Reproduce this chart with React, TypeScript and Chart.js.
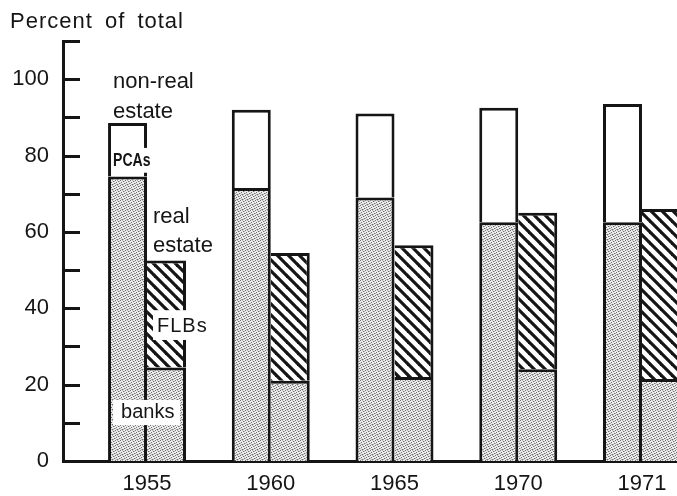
import { useEffect, useRef } from 'react';
import { Chart, registerables } from 'chart.js';

Chart.register(...registerables);

// ---- data (percent of total) ----
const years = ['1955', '1960', '1965', '1970', '1971'];
// non-real estate loans
const nonRealBanks = [74.5, 71.5, 69, 62.5, 62.5];
const pcas = [14, 20.5, 22, 30, 31];
// real estate loans
const realBanks = [24.5, 21, 22, 24, 21.5];
const flbs = [28, 33.5, 34.5, 41, 44.5];
// axis
const yLabelValues = [0, 20, 40, 60, 80, 100];
const yMax = 110;

const INK = '#151515';
const FONT = '"Liberation Sans", Arial, Helvetica, sans-serif';

function makeStipple(): CanvasPattern | string {
  const n = 5;
  const c = document.createElement('canvas');
  c.width = n;
  c.height = n;
  const g = c.getContext('2d');
  if (!g) return '#d0d0d0';
  g.fillStyle = '#ececec';
  g.fillRect(0, 0, n, n);
  g.fillStyle = '#6e6e6e';
  for (const [x, y] of [[0, 0], [3, 1], [1, 2], [4, 3], [2, 4]]) g.fillRect(x, y, 1, 1);
  g.fillStyle = '#b4b4b4';
  for (const [x, y] of [[2, 0], [4, 1], [0, 3], [3, 4], [1, 4]]) g.fillRect(x, y, 1, 1);
  return g.createPattern(c, 'repeat') || '#d0d0d0';
}

function makeHatch(): CanvasPattern | string {
  const s = 11;
  const c = document.createElement('canvas');
  c.width = s;
  c.height = s;
  const g = c.getContext('2d');
  if (!g) return '#888';
  g.fillStyle = '#ffffff';
  g.fillRect(0, 0, s, s);
  g.strokeStyle = INK;
  g.lineWidth = 3.2;
  for (const k of [-s, 0, s]) {
    g.beginPath();
    g.moveTo(k - 1, -1);
    g.lineTo(k + s + 1, s + 1);
    g.stroke();
  }
  return g.createPattern(c, 'repeat') || '#888';
}

const toPoints = (arr: number[]) => arr.map((v, i) => ({ x: i, y: v }));

const overlayPlugin = {
  id: 'overlay',
  afterDatasetsDraw(chart: any) {
    const { ctx, chartArea } = chart;
    const y = chart.scales.y;
    const nre = chart.getDatasetMeta(0).data[0];
    if (!nre) return;
    const L = nre.x - nre.width / 2;
    const R = nre.x + nre.width / 2;
    const py = (v: number) => y.getPixelForValue(v);

    ctx.save();
    // inner tick marks on the y axis
    ctx.strokeStyle = INK;
    ctx.lineWidth = 3;
    for (const t of y.ticks) {
      if (t.value <= 0) continue;
      const p = Math.round(y.getPixelForValue(t.value)) + 0.5;
      ctx.beginPath();
      ctx.moveTo(chartArea.left, p);
      ctx.lineTo(chartArea.left + 17, p);
      ctx.stroke();
    }

    ctx.fillStyle = INK;
    ctx.textBaseline = 'alphabetic';
    ctx.textAlign = 'left';

    // "Percent of total"
    ctx.font = `22px ${FONT}`;
    (ctx as any).letterSpacing = '1px';
    (ctx as any).wordSpacing = '5px';
    ctx.fillText('Percent of total', 10, 28);
    (ctx as any).letterSpacing = '0px';
    (ctx as any).wordSpacing = '0px';

    // non-real estate
    ctx.font = `22px ${FONT}`;
    ctx.fillText('non-real', L + 5, py(97.7));
    ctx.fillText('estate', L + 5, py(89.8));

    // PCAs
    ctx.fillStyle = '#ffffff';
    ctx.fillRect(L + 4, py(82), R - L + 3, py(75.5) - py(82));
    ctx.fillStyle = INK;
    ctx.font = `bold 18px ${FONT}`;
    ctx.save();
    ctx.translate(L + 5, py(77.3));
    ctx.scale(0.78, 1);
    ctx.fillText('PCAs', 0, 0);
    ctx.restore();

    // real estate
    ctx.font = `22px ${FONT}`;
    ctx.fillText('real', R + 6, py(62.3));
    ctx.fillText('estate', R + 6, py(54.7));

    // FLBs
    ctx.fillStyle = '#ffffff';
    ctx.fillRect(R + 6, py(39.5), 53, py(31.7) - py(39.5));
    ctx.fillStyle = INK;
    ctx.font = `20px ${FONT}`;
    (ctx as any).letterSpacing = '1px';
    ctx.fillText('FLBs', R + 10, py(33.8));
    (ctx as any).letterSpacing = '0px';

    // banks
    ctx.fillStyle = '#ffffff';
    ctx.fillRect(L + 5, py(16), 67, py(9.4) - py(16));
    ctx.fillStyle = INK;
    ctx.font = `20px ${FONT}`;
    ctx.fillText('banks', L + 13, py(11.3));

    ctx.restore();
  },
};

export default function App() {
  const ref = useRef<HTMLCanvasElement | null>(null);

  useEffect(() => {
    const canvas = ref.current;
    if (!canvas) return;
    document.body.style.margin = '0';
    const stipple = makeStipple();
    const hatch = makeHatch();
    const bw = 3;

    const chart = new Chart(canvas, {
      type: 'bar',
      data: {
        datasets: [
          {
            label: 'banks (non-real estate)',
            data: toPoints(nonRealBanks),
            stack: 'nonreal',
            backgroundColor: stipple as any,
            borderColor: INK,
            borderWidth: { top: bw, left: bw, right: bw, bottom: 0 },
          },
          {
            label: 'PCAs',
            data: toPoints(pcas),
            stack: 'nonreal',
            backgroundColor: '#ffffff',
            borderColor: INK,
            borderWidth: { top: bw, left: bw, right: bw, bottom: 0 },
          },
          {
            label: 'banks (real estate)',
            data: toPoints(realBanks),
            stack: 'real',
            backgroundColor: stipple as any,
            borderColor: INK,
            borderWidth: { top: bw, left: 0, right: bw, bottom: 0 },
          },
          {
            label: 'FLBs',
            data: toPoints(flbs),
            stack: 'real',
            backgroundColor: hatch as any,
            borderColor: INK,
            borderWidth: { top: bw, left: 0, right: bw, bottom: 0 },
          },
        ] as any,
      },
      options: {
        animation: false,
        responsive: false,
        devicePixelRatio: 1,
        layout: { padding: { top: 41, left: 0, right: 0, bottom: 0 } },
        datasets: {
          bar: { categoryPercentage: 0.63, barPercentage: 1, inflateAmount: 0 } as any,
        },
        plugins: {
          legend: { display: false },
          tooltip: { enabled: false },
          title: { display: false },
        },
        scales: {
          x: {
            type: 'linear',
            offset: false,
            min: -0.679,
            max: 4.283,
            grid: { display: false, drawTicks: false, offset: false },
            border: { display: true, color: INK, width: 3 },
            afterBuildTicks: (s: any) => {
              s.ticks = years.map((_, i) => ({ value: i }));
            },
            afterFit: (s: any) => {
              s.height = 35;
            },
            ticks: {
              autoSkip: false,
              maxRotation: 0,
              padding: 10,
              color: INK,
              font: { family: FONT, size: 22 },
              callback: (v: any) => years[Math.round(Number(v))] ?? '',
            },
          },
          y: {
            type: 'linear',
            stacked: true,
            min: 0,
            max: yMax,
            grid: { display: false, drawTicks: false },
            border: { display: true, color: INK, width: 3 },
            afterFit: (s: any) => {
              s.width = 63;
            },
            ticks: {
              stepSize: 10,
              autoSkip: false,
              padding: 14,
              color: INK,
              font: { family: FONT, size: 22 },
              callback: (v: any) => (yLabelValues.includes(Number(v)) ? String(v) : ''),
            },
          },
        },
      } as any,
      plugins: [overlayPlugin],
    });

    return () => chart.destroy();
  }, []);

  return (
    <div style={{ position: 'absolute', left: 0, top: 0, width: 677, height: 496, background: '#fff' }}>
      <canvas ref={ref} width={677} height={496} style={{ display: 'block' }} />
    </div>
  );
}
